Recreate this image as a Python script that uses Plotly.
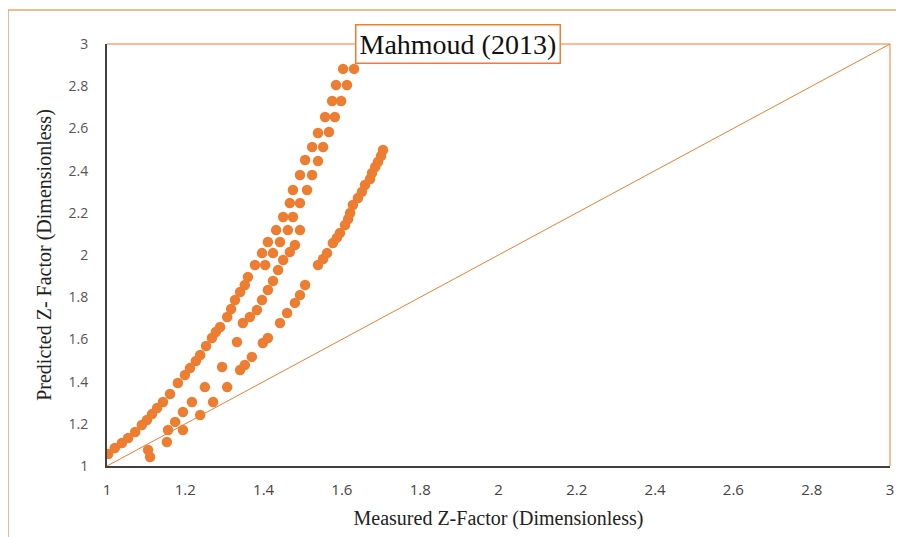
import plotly.graph_objects as go

# Measured vs predicted Z-factor
measured_z = [
    # upper-left chain
    1.003, 1.020, 1.038, 1.054, 1.072, 1.089, 1.102, 1.115, 1.128, 1.143,
    1.161, 1.181, 1.199, 1.212, 1.227, 1.238, 1.253, 1.268, 1.278, 1.289,
    1.307, 1.317, 1.327, 1.340, 1.352, 1.360, 1.378, 1.396, 1.411, 1.432,
    1.450, 1.467, 1.475, 1.493, 1.506, 1.524, 1.539, 1.557, 1.575, 1.585, 1.603,
    # partner chain
    1.404, 1.424, 1.442, 1.462, 1.493, 1.475, 1.493, 1.511, 1.524, 1.539,
    1.552, 1.567, 1.582, 1.598, 1.613, 1.631,
    # middle band
    1.105, 1.110, 1.153, 1.156, 1.174, 1.194, 1.194, 1.217, 1.238, 1.250,
    1.271, 1.307, 1.294, 1.332, 1.340, 1.352, 1.370, 1.398, 1.411, 1.347,
    1.365, 1.383, 1.396, 1.411, 1.424, 1.437, 1.450, 1.467, 1.480,
    # short band
    1.442, 1.460, 1.480, 1.493, 1.506,
    # right chain
    1.539, 1.552, 1.562, 1.577, 1.587, 1.595, 1.608, 1.616, 1.621, 1.628,
    1.641, 1.651, 1.659, 1.672, 1.677, 1.685, 1.692, 1.700, 1.705,
]
predicted_z = [
    1.057, 1.085, 1.109, 1.133, 1.161, 1.194, 1.218, 1.246, 1.275, 1.303,
    1.341, 1.393, 1.431, 1.464, 1.498, 1.526, 1.569, 1.607, 1.635, 1.659,
    1.706, 1.744, 1.787, 1.825, 1.858, 1.896, 1.953, 2.009, 2.062, 2.118,
    2.180, 2.246, 2.308, 2.379, 2.450, 2.512, 2.578, 2.654, 2.730, 2.806, 2.882,
    1.953, 2.009, 2.062, 2.118, 2.118, 2.180, 2.246, 2.308, 2.379, 2.445,
    2.512, 2.583, 2.654, 2.730, 2.806, 2.882,
    1.076, 1.043, 1.114, 1.171, 1.209, 1.171, 1.256, 1.303, 1.242, 1.374,
    1.303, 1.374, 1.469, 1.588, 1.455, 1.479, 1.517, 1.583, 1.607, 1.678,
    1.706, 1.739, 1.787, 1.834, 1.877, 1.929, 1.976, 2.014, 2.047,
    1.678, 1.725, 1.773, 1.810, 1.858,
    1.953, 1.981, 2.009, 2.057, 2.081, 2.104, 2.142, 2.171, 2.199, 2.237,
    2.270, 2.299, 2.332, 2.360, 2.389, 2.417, 2.441, 2.469, 2.498,
]

unity_line = [1, 3]
tick_vals = [1, 1.2, 1.4, 1.6, 1.8, 2, 2.2, 2.4, 2.6, 2.8, 3]
tick_text = ["1", "1.2", "1.4", "1.6", "1.8", "2", "2.2", "2.4", "2.6", "2.8", "3"]

ORANGE = "#ED7D31"

fig = go.Figure()
fig.add_trace(go.Scatter(
    x=unity_line, y=unity_line, mode="lines",
    line=dict(color=ORANGE, width=1), hoverinfo="skip", showlegend=False,
))
fig.add_trace(go.Scatter(
    x=measured_z, y=predicted_z, mode="markers",
    marker=dict(color=ORANGE, size=10.5, line=dict(width=0)),
    showlegend=False,
))

# top and right border of plot area (orange)
fig.add_shape(type="line", xref="paper", yref="paper", x0=0, x1=1, y0=1, y1=1,
              line=dict(color=ORANGE, width=1))
fig.add_shape(type="line", xref="paper", yref="paper", x0=1, x1=1, y0=0, y1=1,
              line=dict(color=ORANGE, width=1))
# outer frame
fig.add_shape(type="rect", xref="paper", yref="paper",
              x0=-0.1264, x1=1.05, y0=-0.25, y1=1.0806,
              line=dict(color="#E9A56F", width=1.5), layer="below")

fig.add_annotation(
    text="Mahmoud (2013)", xref="paper", yref="paper", x=0.448, y=1.0,
    xanchor="center", yanchor="middle", showarrow=False,
    font=dict(family="Liberation Serif", size=28, color="#111111"),
    bgcolor="white", bordercolor=ORANGE, borderwidth=1.5, borderpad=3,
)

fig.update_layout(
    width=904, height=537,
    margin=dict(l=99, r=22, t=36, b=79),
    paper_bgcolor="white", plot_bgcolor="white",
    xaxis=dict(
        range=[1, 3], tickvals=tick_vals, ticktext=tick_text,
        showgrid=False, zeroline=False, showline=True,
        linecolor="#404040", linewidth=2, ticks="",
        ticklabelstandoff=9,
        tickfont=dict(family="Open Sans", size=15, color="#444444"),
        title=dict(text="Measured Z-Factor (Dimensionless)", standoff=13,
                   font=dict(family="Liberation Serif", size=20, color="#222222")),
    ),
    yaxis=dict(
        range=[1, 3], tickvals=tick_vals, ticktext=tick_text,
        showgrid=False, zeroline=False, showline=True,
        linecolor="#404040", linewidth=2, ticks="",
        ticklabelstandoff=14,
        tickfont=dict(family="Open Sans", size=14, color="#555555"),
        title=dict(text="Predicted Z- Factor (Dimensionless)", standoff=12,
                   font=dict(family="Liberation Serif", size=20, color="#222222")),
    ),
)

fig.write_html("out.html")
